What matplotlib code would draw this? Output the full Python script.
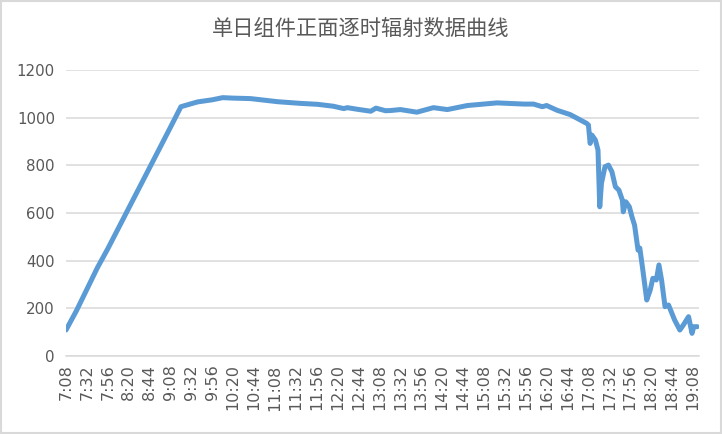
import matplotlib
matplotlib.use("Agg")
import matplotlib.pyplot as plt
from matplotlib.patches import Rectangle

title = "单日组件正面逐时辐射数据曲线"

times = ["7:08", "7:20", "7:32", "7:44", "7:56", "8:08", "8:20", "8:32", "8:44", "8:56",
         "9:08", "9:20", "9:39", "9:56", "10:08", "10:20", "10:40", "11:11", "11:37", "11:57",
         "12:15", "12:27", "12:31", "12:43", "12:58", "13:04", "13:15", "13:21", "13:32", "13:51",
         "14:10", "14:26", "14:49", "15:23", "15:54", "16:05", "16:15", "16:20", "16:32", "16:47",
         "17:06", "17:08", "17:10", "17:12", "17:16", "17:19", "17:21", "17:23", "17:27", "17:31",
         "17:35", "17:39", "17:43", "17:47", "17:48", "17:51", "17:55", "17:58", "18:01", "18:05",
         "18:07", "18:10", "18:15", "18:19", "18:22", "18:26", "18:29", "18:32", "18:36", "18:40",
         "18:47", "18:53", "18:57", "19:03", "19:07", "19:09", "19:13"]
values = [109, 190, 280, 370, 450, 535, 620, 705, 790, 875,
          960, 1046, 1066, 1075, 1084, 1082, 1080, 1067, 1060, 1056,
          1048, 1038, 1042, 1035, 1027, 1040, 1029, 1030, 1034, 1023,
          1042, 1034, 1051, 1062, 1057, 1057, 1046, 1051, 1031, 1013,
          976, 969, 892, 927, 906, 864, 626, 725, 794, 801,
          773, 710, 696, 654, 605, 647, 626, 584, 549, 444,
          453, 374, 235, 277, 326, 319, 382, 319, 207, 214,
          151, 109, 130, 165, 95, 123, 123]

tick_labels = ["7:08", "7:32", "7:56", "8:20", "8:44", "9:08", "9:32", "9:56", "10:20", "10:44",
               "11:08", "11:32", "11:56", "12:20", "12:44", "13:08", "13:32", "13:56", "14:20", "14:44",
               "15:08", "15:32", "15:56", "16:20", "16:44", "17:08", "17:32", "17:56", "18:20", "18:44",
               "19:08"]
y_ticks = [0, 200, 400, 600, 800, 1000, 1200]


def to_min(s):
    h, m = s.split(":")
    return int(h) * 60 + int(m)


x = [to_min(t) for t in times]
xt = [to_min(t) for t in tick_labels]

plt.rcParams['font.family'] = ['DejaVu Sans']
fig = plt.figure(figsize=(7.22, 4.34), dpi=100)
ax = fig.add_axes([66 / 722, 1 - 356 / 434, (699 - 66) / 722, (356 - 70) / 434])

ax.plot(x, values, color="#5B9BD5", linewidth=3.6, solid_joinstyle="round", solid_capstyle="round", zorder=3)

ax.set_xlim(428, 1155)
ax.set_ylim(0, 1200)
ax.set_yticks(y_ticks)
ax.set_yticklabels([str(v) for v in y_ticks])
ax.set_xticks(xt)
ax.set_xticklabels(tick_labels, rotation=90)
ax.yaxis.grid(True, color="#D9D9D9", linewidth=1.1)
ax.set_axisbelow(True)
for s in ["top", "right", "left"]:
    ax.spines[s].set_visible(False)
ax.spines["bottom"].set_color("#D9D9D9")
ax.spines["bottom"].set_linewidth(1.1)
ax.tick_params(axis="both", length=0, colors="#595959")
ax.tick_params(axis="y", labelsize=10.8, pad=8)
ax.tick_params(axis="x", labelsize=11.5, pad=6)

fig.text(0.5, 1 - 29 / 434, title, ha="center", va="center", fontsize=15.3,
         color="#595959", family=["Noto Sans CJK SC", "DejaVu Sans"], fontweight="light")

fig.patches.append(Rectangle((0.001, 0.002), 0.997, 0.995, transform=fig.transFigure,
                             fill=False, edgecolor="#D9D9D9", linewidth=1.5))

fig.savefig("out.png", dpi=100)
